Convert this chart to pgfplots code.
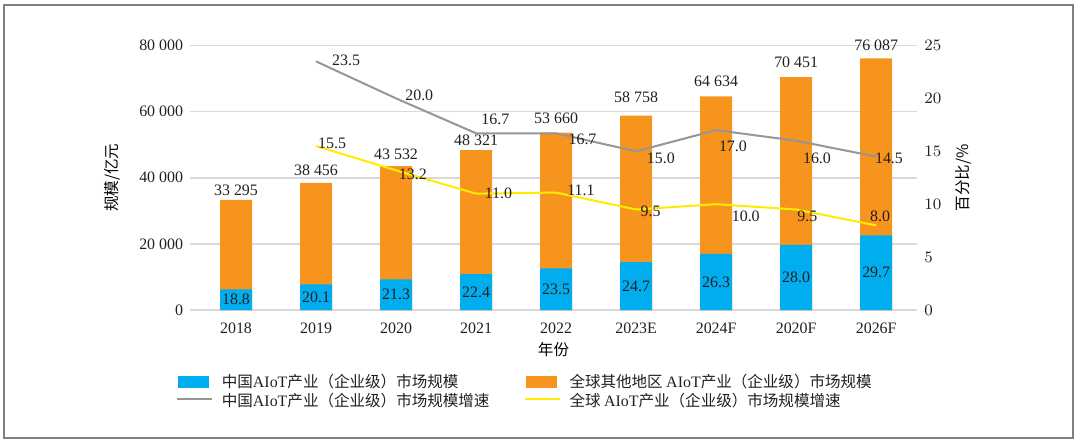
\documentclass[border=0pt]{standalone}
\usepackage{pgfplots}
\pgfplotsset{compat=1.18}
\usepackage{pgfplotstable}
\usepackage{fontspec}
\setmainfont{Liberation Serif}
\newfontfamily\cjk{Noto Sans CJK SC}
\newcommand\ts{\hspace{0.25em}}

\definecolor{cnblue}{RGB}{0,174,239}
\definecolor{rworange}{RGB}{247,148,29}
\definecolor{cngray}{RGB}{150,150,150}
\definecolor{glyellow}{RGB}{255,237,0}
\definecolor{gridgray}{RGB}{217,217,217}
\definecolor{framegray}{RGB}{128,128,128}
\definecolor{txt}{RGB}{35,31,32}

% x total cn(=share*total) share label, total-label y
\pgfplotstableread{
x total cn share totlab ty
0 33295 6259 18.8 {33\ts295} 36084
1 38456 7730 20.1 {38\ts456} 42344
2 43532 9272 21.3 {43\ts532} 47093
3 48321 10824 22.4 {48\ts321} 51418
4 53660 12610 23.5 {53\ts660} 57982
5 58758 14513 24.7 {58\ts758} 64212
6 64634 16999 26.3 {64\ts634} 69052
7 70451 19726 28.0 {70\ts451} 74798
8 76087 22598 29.7 {76\ts087} 80151
}\bars

\pgfplotstableread{
x cn gl
1 23.5 15.5
2 20.0 13.2
3 16.7 11.0
4 16.7 11.1
5 15.0 9.5
6 17.0 10.0
7 16.0 9.5
8 14.5 8.0
}\growth

% label positions (right axis units)
\pgfplotstableread{
x y lab
1.375 23.63 23.5
2.29 20.3 20.0
3.24 18.05 16.7
4.33 16.16 16.7
5.31 14.37 15.0
6.21 15.5 17.0
7.26 14.37 16.0
8.16 14.37 14.5
}\cnlab

\pgfplotstableread{
x y lab
1.2 15.78 15.5
2.21 12.85 13.2
3.28 11.06 11.0
4.31 11.34 11.1
5.18 9.36 9.5
6.37 8.88 10.0
7.14 8.88 9.5
8.05 8.88 8.0
}\gllab

\pgfplotsset{
  base/.style={
    at={(95bp,-155bp)}, anchor=south west,
    scale only axis, width=363.5bp, height=132.25bp,
    xmin=-0.575, xmax=8.51,
    axis line style={draw=none},
    major tick length=0pt,
    clip=false,
    tick label style={text=txt},
    label style={text=txt},
  },
  lab/.style={draw=none, mark=none, forget plot, nodes near coords,
    point meta=explicit symbolic,
    every node near coord/.append style={anchor=center, text=txt, inner sep=0pt}},
}

\begin{document}
\begin{tikzpicture}[font=\fontsize{8}{9.6}\selectfont]
\begin{axis}[base,
  ymin=0, ymax=80000,
  ytick={0,20000,...,80000},
  scaled y ticks=false,
  yticklabel style={/pgf/number format/1000 sep={\ts},
    /pgf/number format/assume math mode=true,
    anchor=east, inner sep=0pt, xshift=-3.25bp},
  ymajorgrids, grid style={gridgray, line width=0.8bp},
  xtick={0,...,8},
  xticklabels={2018,2019,2020,2021,2022,2023E,2024F,2020F,2026F},
  xticklabel style={anchor=center, inner sep=0pt, yshift=-9bp},
  xlabel={\cjk\fontsize{7.8}{9}\selectfont 年份},
  every axis x label/.style={at={(rel axis cs:0.5,0)}, anchor=center, yshift=-20bp},
  ylabel={\cjk\fontsize{7.8}{9}\selectfont 规模/亿元},
  every axis y label/.style={at={(rel axis cs:0,0.5)}, rotate=90, anchor=center, yshift=39bp},
]
\addplot[ybar, bar width=16bp, bar shift=0pt, fill=rworange, draw=none]
  table[x=x, y=total] {\bars};
\addplot[ybar, bar width=16bp, bar shift=0pt, fill=cnblue, draw=none]
  table[x=x, y=cn] {\bars};
\addplot[lab] table[x=x, y=ty, meta=totlab] {\bars};
\addplot[lab] table[x=x, y expr=\thisrow{cn}/2, meta=share] {\bars};
\end{axis}

\begin{axis}[base,
  ymin=0, ymax=25,
  ytick={0,5,...,25},
  yticklabel pos=right,
  yticklabel style={anchor=west, inner sep=0pt, xshift=3.5bp},
  xtick=\empty,
  ylabel={\cjk\fontsize{7.8}{9}\selectfont 百分比/\%},
  every axis y label/.style={at={(rel axis cs:1,0.5)}, rotate=90, anchor=center, yshift=-23bp},
  legend columns=2,
  legend style={at={(rel axis cs:-0.02,-0.241)}, anchor=north west,
    draw=none, fill=none, inner sep=0pt, row sep=1.2bp,
    nodes={inner sep=0pt},
    font=\cjk\fontsize{7.8}{9}\selectfont, text=txt,
    /tikz/every even column/.append style={column sep=17bp},
    /tikz/every odd column/.append style={column sep=4.5bp}},
  legend cell align=left,
  legend image code/.code={\path[draw=none, fill=none] (0bp,-2.75bp) rectangle (15bp,2.75bp);
    \draw[#1, line width=1bp] (-1bp,0.8bp) -- (16.5bp,0.8bp);},
]
\addlegendimage{legend image code/.code={\fill[cnblue] (0bp,-2.75bp) rectangle (15bp,2.75bp);}}
\addlegendentry{中国{\rmfamily\fontsize{8}{9}\selectfont AIoT}产业（企业级）市场规模}
\addlegendimage{legend image code/.code={\fill[rworange] (0bp,-2.75bp) rectangle (15bp,2.75bp);}}
\addlegendentry{全球其他地区 {\rmfamily\fontsize{8}{9}\selectfont AIoT}产业（企业级）市场规模}
\addplot[cngray, line width=1bp, mark=none] table[x=x, y=cn] {\growth};
\addlegendentry{中国{\rmfamily\fontsize{8}{9}\selectfont AIoT}产业（企业级）市场规模增速}
\addplot[glyellow, line width=1bp, mark=none] table[x=x, y=gl] {\growth};
\addlegendentry{全球 {\rmfamily\fontsize{8}{9}\selectfont AIoT}产业（企业级）市场规模增速}
\addplot[lab] table[x=x, y=y, meta=lab] {\cnlab};
\addplot[lab] table[x=x, y=y, meta=lab] {\gllab};
\end{axis}

\draw[framegray, line width=1bp] (2bp,-2.5bp) rectangle (536.5bp,-219bp);
\pgfresetboundingbox
\path[use as bounding box] (0bp,0bp) rectangle (540bp,-222bp);
\end{tikzpicture}
\end{document}
